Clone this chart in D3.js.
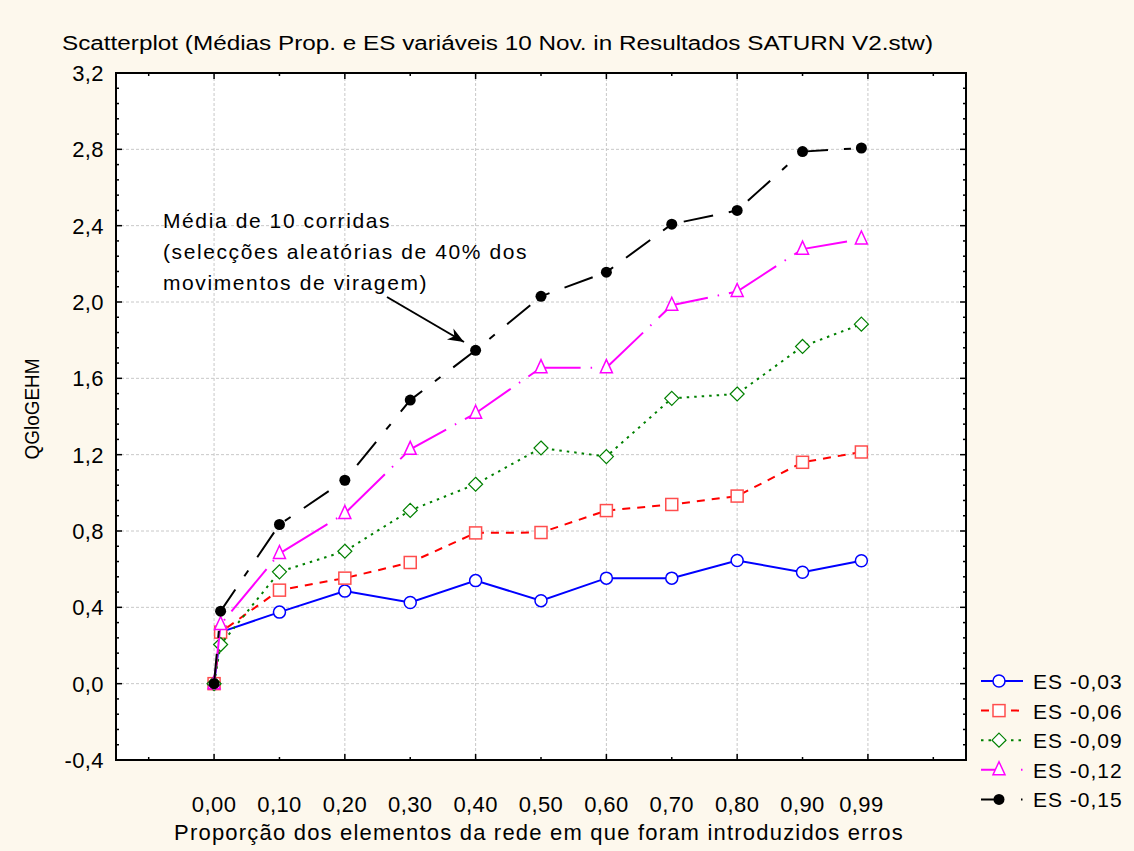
<!DOCTYPE html>
<html>
<head>
<meta charset="utf-8">
<script src="https://cdn.jsdelivr.net/npm/d3@7"></script>
<style>
  body { margin: 0; background: #fdf8ed; }
  text { font-family: "Liberation Sans", Arial, sans-serif; fill: #000; }
</style>
</head>
<body>
<div id="chart"></div>
<script>
// proportions of network elements with errors
let xValues = [0, 0.01, 0.1, 0.2, 0.3, 0.4, 0.5, 0.6, 0.7, 0.8, 0.9, 0.99];
let xTickValues = [0, 0.1, 0.2, 0.3, 0.4, 0.5, 0.6, 0.7, 0.8, 0.9, 0.99];
let yTickValues = [-0.4, 0, 0.4, 0.8, 1.2, 1.6, 2.0, 2.4, 2.8, 3.2];

let seriesNames = ["ES -0,03", "ES -0,06", "ES -0,09", "ES -0,12", "ES -0,15"];
let es003 = [0, 0.27, 0.375, 0.485, 0.425, 0.54, 0.435, 0.553, 0.553, 0.645, 0.584, 0.644];
let es006 = [0, 0.27, 0.49, 0.553, 0.635, 0.79, 0.792, 0.907, 0.939, 0.983, 1.16, 1.214];
let es009 = [0, 0.205, 0.586, 0.694, 0.908, 1.045, 1.235, 1.19, 1.495, 1.518, 1.767, 1.884];
let es012 = [0, 0.31, 0.682, 0.892, 1.228, 1.417, 1.656, 1.656, 1.983, 2.055, 2.277, 2.33];
let es015 = [0, 0.38, 0.834, 1.066, 1.486, 1.747, 2.03, 2.156, 2.408, 2.48, 2.788, 2.807];

let allSeries = [es003, es006, es009, es012, es015];
let styles = [
  {color: "#0000ff", mcolor: "#0000ff", dash: null, ldash: null, marker: "circle"},
  {color: "#ff0000", mcolor: "#ff4d4d", dash: "8,7", ldash: "8,22", marker: "square"},
  {color: "#008000", mcolor: "#008000", dash: "2.5,5", ldash: "2.5,5", marker: "diamond"},
  {color: "#ff00ff", mcolor: "#ff00ff", dash: "55,10,1.5,10", ldash: "18,22,1.5,10", marker: "triangle"},
  {color: "#000000", mcolor: "#000000", dash: "30,16,7,16", ldash: "18,22,1.5,10", marker: "dot"}
];

const W = 1134, H = 851;
const plot = {left: 116, right: 966, top: 73, bottom: 760};

var svg = d3.select("#chart").append("svg")
  .attr("width", W).attr("height", H);

svg.append("rect").attr("width", W).attr("height", H).attr("fill", "#fdf8ed");

let x = d3.scaleLinear().domain([-0.15, 1.15]).range([plot.left, plot.right]);
let y = d3.scaleLinear().domain([-0.4, 3.2]).range([plot.bottom, plot.top]);

// plot area
svg.append("rect")
  .attr("x", plot.left).attr("y", plot.top)
  .attr("width", plot.right - plot.left).attr("height", plot.bottom - plot.top)
  .attr("fill", "#ffffff");

// grid
let gx = [0, 0.2, 0.4, 0.6, 0.8, 1.0];
svg.append("g").selectAll("line").data(gx).enter().append("line")
  .attr("x1", d => x(d)).attr("x2", d => x(d))
  .attr("y1", plot.top).attr("y2", plot.bottom)
  .attr("stroke", "#c8c8c8").attr("stroke-dasharray", "3,2").attr("stroke-width", 1);
svg.append("g").selectAll("line").data(yTickValues.slice(1, -1)).enter().append("line")
  .attr("y1", d => y(d)).attr("y2", d => y(d))
  .attr("x1", plot.left).attr("x2", plot.right)
  .attr("stroke", "#c8c8c8").attr("stroke-dasharray", "3,2").attr("stroke-width", 1);

// inward ticks on all four sides
let yMinor = d3.range(-0.4, 3.2001, 0.08);
let frameTicks = svg.append("g").attr("stroke", "#000").attr("stroke-width", 1.5);
yMinor.forEach(function(v, i) {
  let len = (i % 5 == 0) ? 6 : 3;
  frameTicks.append("line").attr("x1", plot.left).attr("x2", plot.left + len)
    .attr("y1", y(v)).attr("y2", y(v));
  frameTicks.append("line").attr("x1", plot.right).attr("x2", plot.right - len)
    .attr("y1", y(v)).attr("y2", y(v));
});
d3.range(-0.1, 1.1001, 0.1).forEach(function(v, i) {
  let len = (i % 2 == 1) ? 6 : 3;
  frameTicks.append("line").attr("x1", x(v)).attr("x2", x(v))
    .attr("y1", plot.bottom).attr("y2", plot.bottom - len);
  frameTicks.append("line").attr("x1", x(v)).attr("x2", x(v))
    .attr("y1", plot.top).attr("y2", plot.top + len);
});

// frame
svg.append("rect")
  .attr("x", plot.left).attr("y", plot.top)
  .attr("width", plot.right - plot.left).attr("height", plot.bottom - plot.top)
  .attr("fill", "none").attr("stroke", "#000").attr("stroke-width", 2);

// tick labels
let fmt2 = d => d3.format(".2f")(d).replace(".", ",");
let fmt1 = d => d3.format(".1f")(d).replace(".", ",").replace("−", "-");

svg.append("g").selectAll("text").data(xTickValues).enter().append("text")
  .attr("x", d => x(d)).attr("y", 812)
  .attr("text-anchor", "middle").style("font-size", "22px")
  .style("letter-spacing", "0.4px")
  .text(fmt2);

svg.append("g").selectAll("text").data(yTickValues).enter().append("text")
  .attr("x", 104).attr("y", d => y(d) + 8)
  .attr("text-anchor", "end").style("font-size", "22px")
  .style("letter-spacing", "0.4px")
  .text(fmt1);

// titles
svg.append("text")
  .attr("x", 62).attr("y", 50)
  .style("font-size", "20px")
  .attr("textLength", 871).attr("lengthAdjust", "spacingAndGlyphs")
  .text("Scatterplot (Médias Prop. e ES variáveis 10 Nov. in Resultados SATURN V2.stw)");

svg.append("text")
  .attr("transform", "translate(39,409) rotate(-90)")
  .attr("text-anchor", "middle")
  .style("font-size", "20px")
  .attr("textLength", 101).attr("lengthAdjust", "spacingAndGlyphs")
  .text("QGloGEHM");

svg.append("text")
  .attr("x", 539).attr("y", 840)
  .attr("text-anchor", "middle")
  .style("font-size", "22px").style("letter-spacing", "1.2px")
  .text("Proporção dos elementos da rede em que foram introduzidos erros");

// marker drawing
function drawMarker(sel, type, color) {
  if (type == "circle") {
    sel.append("circle").attr("r", 6).attr("fill", "#fff").attr("stroke", color).attr("stroke-width", 1.5);
  } else if (type == "square") {
    sel.append("rect").attr("x", -6).attr("y", -6).attr("width", 12).attr("height", 12)
      .attr("fill", "#fff").attr("stroke", color).attr("stroke-width", 1.5);
  } else if (type == "diamond") {
    sel.append("path").attr("d", "M0,-7L7,0L0,7L-7,0Z")
      .attr("fill", "#fff").attr("stroke", color).attr("stroke-width", 1.2);
  } else if (type == "triangle") {
    sel.append("path").attr("d", "M0,-8L6,5L-6,5Z")
      .attr("fill", "#fff").attr("stroke", color).attr("stroke-width", 1.5);
  } else {
    sel.append("circle").attr("r", 5.5).attr("fill", color);
  }
}

let line = d3.line().x(d => x(d[0])).y(d => y(d[1]));

allSeries.forEach(function(vals, si) {
  let st = styles[si];
  let pts = xValues.map((xv, i) => [xv, vals[i]]);
  svg.append("path").datum(pts)
    .attr("d", line)
    .attr("fill", "none").attr("stroke", st.color).attr("stroke-width", 2)
    .attr("stroke-dasharray", st.dash);
  svg.append("g").selectAll("g").data(pts).enter().append("g")
    .attr("transform", d => `translate(${x(d[0])},${y(d[1])})`)
    .each(function() { drawMarker(d3.select(this), st.marker, st.mcolor); });
});

// annotation
let note = svg.append("text").style("font-size", "21px").style("letter-spacing", "1.6px");
["Média de 10 corridas", "(selecções aleatórias de 40% dos", "movimentos de viragem)"]
  .forEach(function(t, i) {
    note.append("tspan").attr("x", 163).attr("y", 228 + i * 31).text(t);
  });

svg.append("defs").append("marker")
  .attr("id", "arrow").attr("viewBox", "0 0 10 10")
  .attr("refX", 10).attr("refY", 5)
  .attr("markerWidth", 8).attr("markerHeight", 8)
  .attr("orient", "auto")
  .append("path").attr("d", "M0,1L10,5L0,9L3,5Z").attr("fill", "#000");

svg.append("line")
  .attr("x1", 387).attr("y1", 297).attr("x2", 464).attr("y2", 342)
  .attr("stroke", "#000").attr("stroke-width", 2)
  .attr("marker-end", "url(#arrow)");

// legend
let legend = svg.append("g");
seriesNames.forEach(function(name, i) {
  let st = styles[i];
  let ly = 681 + i * 29.6;
  let row = legend.append("g");
  row.append("line").attr("x1", 981).attr("x2", 1023).attr("y1", ly).attr("y2", ly)
    .attr("stroke", st.color).attr("stroke-width", 2)
    .attr("stroke-dasharray", st.ldash);
  let m = row.append("g").attr("transform", `translate(999,${ly})`);
  drawMarker(m, st.marker, st.mcolor);
  row.append("text").attr("x", 1033).attr("y", ly + 8)
    .style("font-size", "21px").style("letter-spacing", "1px").text(name);
});
</script>
</body>
</html>
